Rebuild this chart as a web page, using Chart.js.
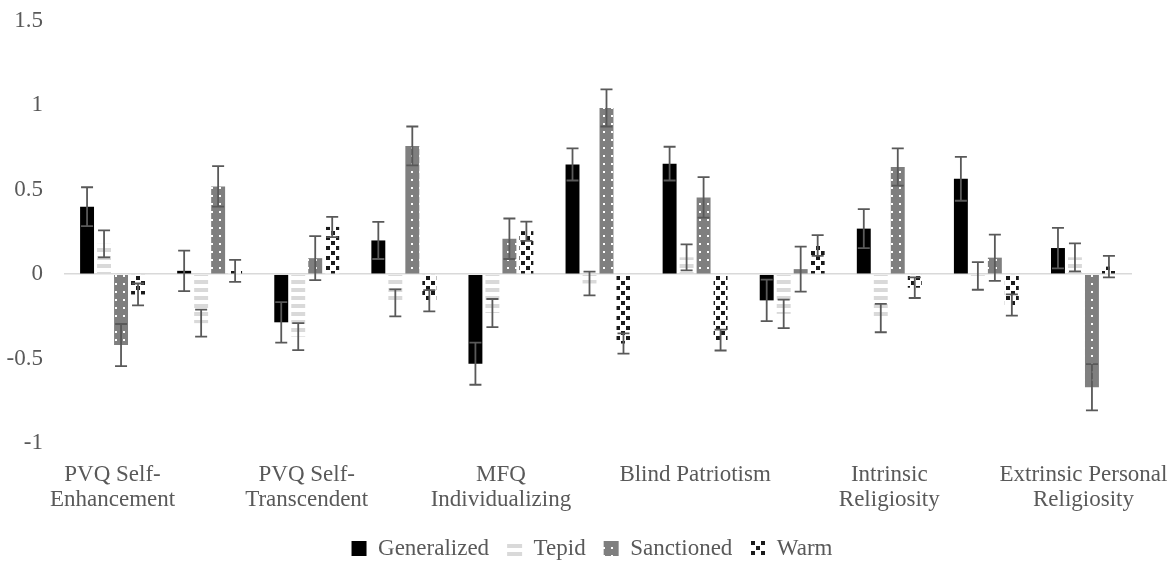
<!DOCTYPE html>
<html>
<head>
<meta charset="utf-8">
<script src="https://cdn.jsdelivr.net/npm/chart.js@4.4.1/dist/chart.umd.min.js"></script>
<style>
  html, body { margin: 0; padding: 0; background: #ffffff; }
  #wrap { width: 1176px; height: 565px; position: relative; }
</style>
</head>
<body>
<div id="wrap"><canvas id="c" width="1176" height="565"></canvas></div>
<script>
// ---- data ----
const categories = [
  ["PVQ Self-", "Enhancement"], "",
  ["PVQ Self-", "Transcendent"], "",
  ["MFQ", "Individualizing"], "",
  "Blind Patriotism", "",
  ["Intrinsic", "Religiosity"], "",
  ["Extrinsic Personal", "Religiosity"]
];
const seriesNames = ["Generalized", "Tepid", "Sanctioned", "Warm"];
const generalized    = [0.40, 0.02, -0.285, 0.20, -0.53, 0.65, 0.655, -0.155, 0.27, 0.565, 0.155];
const generalizedErr = [0.115, 0.12, 0.12, 0.11, 0.125, 0.095, 0.10, 0.123, 0.115, 0.13, 0.12];
const tepid          = [0.18, -0.29, -0.37, -0.17, -0.23, -0.055, 0.10, -0.235, -0.26, -0.01, 0.10];
const tepidErr       = [0.08, 0.08, 0.08, 0.08, 0.083, 0.07, 0.077, 0.084, 0.084, 0.082, 0.083];
const sanctioned     = [-0.42, 0.52, 0.095, 0.76, 0.21, 0.985, 0.455, 0.03, 0.635, 0.098, -0.67];
const sanctionedErr  = [0.125, 0.12, 0.13, 0.115, 0.12, 0.11, 0.12, 0.133, 0.11, 0.137, 0.137];
const warm           = [-0.12, 0.02, 0.28, -0.157, 0.255, -0.41, -0.39, 0.17, -0.08, -0.183, 0.045];
const warmErr        = [0.065, 0.065, 0.06, 0.063, 0.057, 0.06, 0.062, 0.062, 0.061, 0.063, 0.064];
const yMin = -1, yMax = 1.5, yStep = 0.5;

// ---- patterns ----
function makePattern(w, h, draw) {
  const c = document.createElement('canvas');
  c.width = w; c.height = h;
  const g = c.getContext('2d');
  draw(g);
  return document.getElementById('c').getContext('2d').createPattern(c, 'repeat');
}
const tepidFill = makePattern(8, 8, g => {
  g.fillStyle = '#ffffff'; g.fillRect(0, 0, 8, 8);
  g.fillStyle = '#d9d9d9'; g.fillRect(0, 0, 8, 4);
});
const sanctionedFill = makePattern(8, 8, g => {
  g.fillStyle = '#7f7f7f'; g.fillRect(0, 0, 8, 8);
  g.fillStyle = '#ffffff'; g.fillRect(3, 3, 2, 2);
});
const warmFill = makePattern(10, 10, g => {
  g.fillStyle = '#ffffff'; g.fillRect(0, 0, 10, 10);
  g.fillStyle = '#1a1a1a'; g.fillRect(1, 1, 4, 4); g.fillRect(6, 6, 4, 4);
});

const errs = [generalizedErr, tepidErr, sanctionedErr, warmErr];

const errorBars = {
  id: 'errorBars',
  afterDatasetsDraw(chart) {
    const ctx = chart.ctx;
    const ys = chart.scales.y;
    ctx.save();
    ctx.strokeStyle = '#595959';
    ctx.lineWidth = 1.8;
    chart.data.datasets.forEach((ds, i) => {
      const meta = chart.getDatasetMeta(i);
      if (meta.hidden) return;
      meta.data.forEach((bar, j) => {
        const v = ds.data[j], e = errs[i][j];
        const x = bar.x;
        const y1 = ys.getPixelForValue(v + e);
        const y2 = ys.getPixelForValue(v - e);
        ctx.beginPath();
        ctx.moveTo(x, y1); ctx.lineTo(x, y2);
        ctx.moveTo(x - 6, y1); ctx.lineTo(x + 6, y1);
        ctx.moveTo(x - 6, y2); ctx.lineTo(x + 6, y2);
        ctx.stroke();
      });
    });
    ctx.restore();
  }
};

// nudge the legend to the place it has in the reference
const legendShift = {
  id: 'legendShift',
  afterLayout(chart) {
    const lg = chart.legend;
    if (!lg) return;
    const dx = 24, dy = 5;
    lg.left += dx; lg.right += dx;
    lg.top += dy; lg.bottom += dy;
  }
};

const font = { family: "'Liberation Serif', 'Times New Roman', serif", size: 23 };

new Chart(document.getElementById('c'), {
  type: 'bar',
  data: {
    labels: categories,
    datasets: [
      { label: seriesNames[0], data: generalized, backgroundColor: '#000000' },
      { label: seriesNames[1], data: tepid, backgroundColor: tepidFill },
      { label: seriesNames[2], data: sanctioned, backgroundColor: sanctionedFill },
      { label: seriesNames[3], data: warm, backgroundColor: warmFill }
    ]
  },
  options: {
    responsive: false,
    animation: false,
    devicePixelRatio: 1,
    categoryPercentage: 0.7,
    barPercentage: 0.82,
    layout: { padding: { left: 4, right: 44, top: 21, bottom: 0 } },
    plugins: {
      legend: {
        position: 'bottom',
        labels: {
          boxWidth: 15, boxHeight: 15, padding: 18,
          color: '#595959', font: font
        }
      },
      tooltip: { enabled: false }
    },
    scales: {
      x: {
        afterFit(scale) { scale.paddingLeft = 0; scale.paddingRight = 0; scale.height = 71; },
        grid: { display: false, drawTicks: false },
        border: { display: false },
        ticks: {
          color: '#595959', font: { ...font, lineHeight: 1.07 },
          autoSkip: false, maxRotation: 0, minRotation: 0, padding: 20
        }
      },
      y: {
        min: yMin, max: yMax,
        afterFit(scale) { scale.width = 60; scale.paddingTop = 0; scale.paddingBottom = 0; },
        grid: {
          drawTicks: false,
          lineWidth: 1.5,
          color: c => (c.tick && c.tick.value === 0) ? '#d9d9d9' : 'rgba(0,0,0,0)'
        },
        border: { display: false },
        ticks: {
          stepSize: yStep, color: '#595959', font: font, padding: 21,
          callback: v => String(v)
        }
      }
    }
  },
  plugins: [errorBars, legendShift]
});
</script>
</body>
</html>
